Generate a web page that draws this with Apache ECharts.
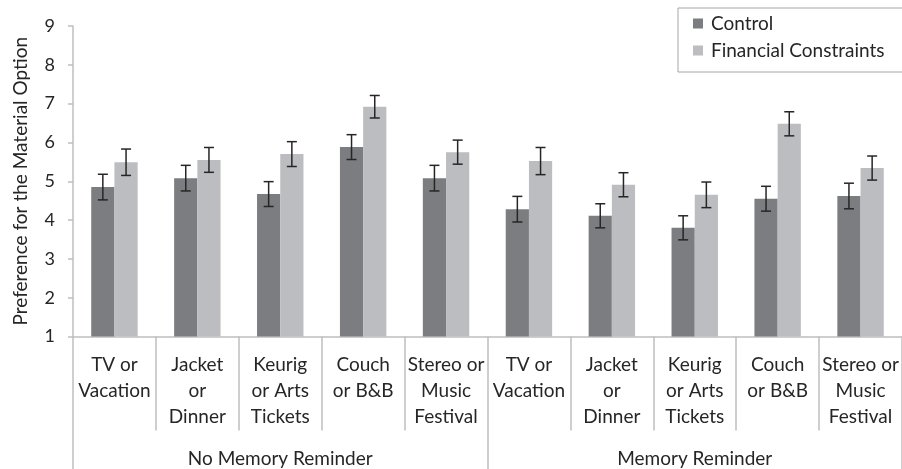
<!DOCTYPE html>
<html>
<head>
<meta charset="utf-8">
<script src="https://cdn.jsdelivr.net/npm/echarts@6/dist/echarts.min.js"></script>
<style>
  html, body { margin: 0; padding: 0; background: #fff; }
  #main { width: 902px; height: 469px; }
</style>
</head>
<body>
<div id="main"></div>
<script>
var categories = [
  'TV or\nVacation', 'Jacket\nor\nDinner', 'Keurig\nor Arts\nTickets', 'Couch\nor B&B', 'Stereo or\nMusic\nFestival',
  'TV or\nVacation', 'Jacket\nor\nDinner', 'Keurig\nor Arts\nTickets', 'Couch\nor B&B', 'Stereo or\nMusic\nFestival'
];
var groups = ['No Memory Reminder', 'Memory Reminder'];
var control = [4.85, 5.08, 4.67, 5.88, 5.08, 4.28, 4.11, 3.80, 4.55, 4.62];
var controlErr = [0.33, 0.33, 0.32, 0.32, 0.33, 0.33, 0.31, 0.31, 0.32, 0.33];
var financial = [5.49, 5.55, 5.70, 6.92, 5.75, 5.52, 4.91, 4.65, 6.48, 5.34];
var financialErr = [0.34, 0.32, 0.32, 0.29, 0.31, 0.35, 0.31, 0.33, 0.31, 0.31];
var yTicks = [1, 9, 1]; // min, max, interval

var dom = document.getElementById('main');
var myChart = echarts.init(dom);
var font = 'Lato, "Open Sans", sans-serif';
var axisGray = '#bfbfbf';
var textColor = '#262626';

// error bar data: [category index, value, err, side]
var errData = [];
for (var i = 0; i < categories.length; i++) {
  errData.push([i, control[i], controlErr[i], -1]);
  errData.push([i, financial[i], financialErr[i], 1]);
}

function renderErr(params, api) {
  var idx = api.value(0);
  var val = api.value(1);
  var err = api.value(2);
  var side = api.value(3);
  var band = api.size([1, 0])[0];
  var dx = side * band * 0.56 / 4;
  var hi = api.coord([idx, val + err]);
  var lo = api.coord([idx, val - err]);
  var x = hi[0] + dx;
  var cap = 5;
  var style = { stroke: '#262626', lineWidth: 1.5 };
  return {
    type: 'group',
    children: [
      { type: 'line', shape: { x1: x, y1: hi[1], x2: x, y2: lo[1] }, style: style },
      { type: 'line', shape: { x1: x - cap, y1: hi[1], x2: x + cap, y2: hi[1] }, style: style },
      { type: 'line', shape: { x1: x - cap, y1: lo[1], x2: x + cap, y2: lo[1] }, style: style }
    ]
  };
}

option = {
  backgroundColor: '#fff',
  animation: false,
  textStyle: { fontFamily: font },
  grid: { left: 73, top: 26, width: 833, height: 310.5, containLabel: false },
  legend: {
    orient: 'vertical',
    left: 678,
    top: 8,
    width: 260,
    data: ['Control', 'Financial Constraints'],
    icon: 'rect',
    itemWidth: 10,
    itemHeight: 10,
    itemGap: 8,
    borderColor: '#a6a6a6',
    borderWidth: 1,
    padding: [6, 40, 12, 15],
    textStyle: { fontFamily: font, fontSize: 19, color: textColor, padding: [0, 0, 0, 3] }
  },
  xAxis: [
    {
      type: 'category',
      data: categories,
      position: 'bottom',
      axisLine: { lineStyle: { color: axisGray, width: 1.5 } },
      axisTick: { show: true, length: 94, interval: 0, lineStyle: { color: axisGray, width: 1.5 } },
      axisLabel: { interval: 0, margin: 15, fontSize: 19, lineHeight: 26, color: textColor, fontFamily: font }
    },
    {
      type: 'category',
      data: groups,
      position: 'bottom',
      axisLine: { show: false },
      axisTick: { show: true, length: 140, interval: 0, lineStyle: { color: axisGray, width: 1.5 } },
      axisLabel: { interval: 0, margin: 113, fontSize: 19, color: textColor, fontFamily: font }
    }
  ],
  yAxis: {
    type: 'value',
    min: yTicks[0],
    max: yTicks[1],
    interval: yTicks[2],
    name: 'Preference for the Material Option',
    nameLocation: 'middle',
    nameGap: 43,
    nameTextStyle: { fontSize: 19, color: textColor, fontFamily: font },
    axisLine: { show: true, lineStyle: { color: axisGray, width: 1.5 } },
    axisTick: { show: true, length: 5, lineStyle: { color: axisGray, width: 1.5 } },
    axisLabel: { fontSize: 18, color: textColor, margin: 18, fontFamily: font },
    splitLine: { show: false }
  },
  series: [
    {
      name: 'Control',
      type: 'bar',
      data: control,
      barGap: '0%',
      barCategoryGap: '44%',
      itemStyle: { color: '#7c7d81' }
    },
    {
      name: 'Financial Constraints',
      type: 'bar',
      data: financial,
      itemStyle: { color: '#bcbdc1' }
    },
    {
      name: 'err',
      type: 'custom',
      renderItem: renderErr,
      data: errData,
      z: 10,
      silent: true
    }
  ]
};

if (option && typeof option === 'object') {
  myChart.setOption(option);
}
</script>
</body>
</html>
